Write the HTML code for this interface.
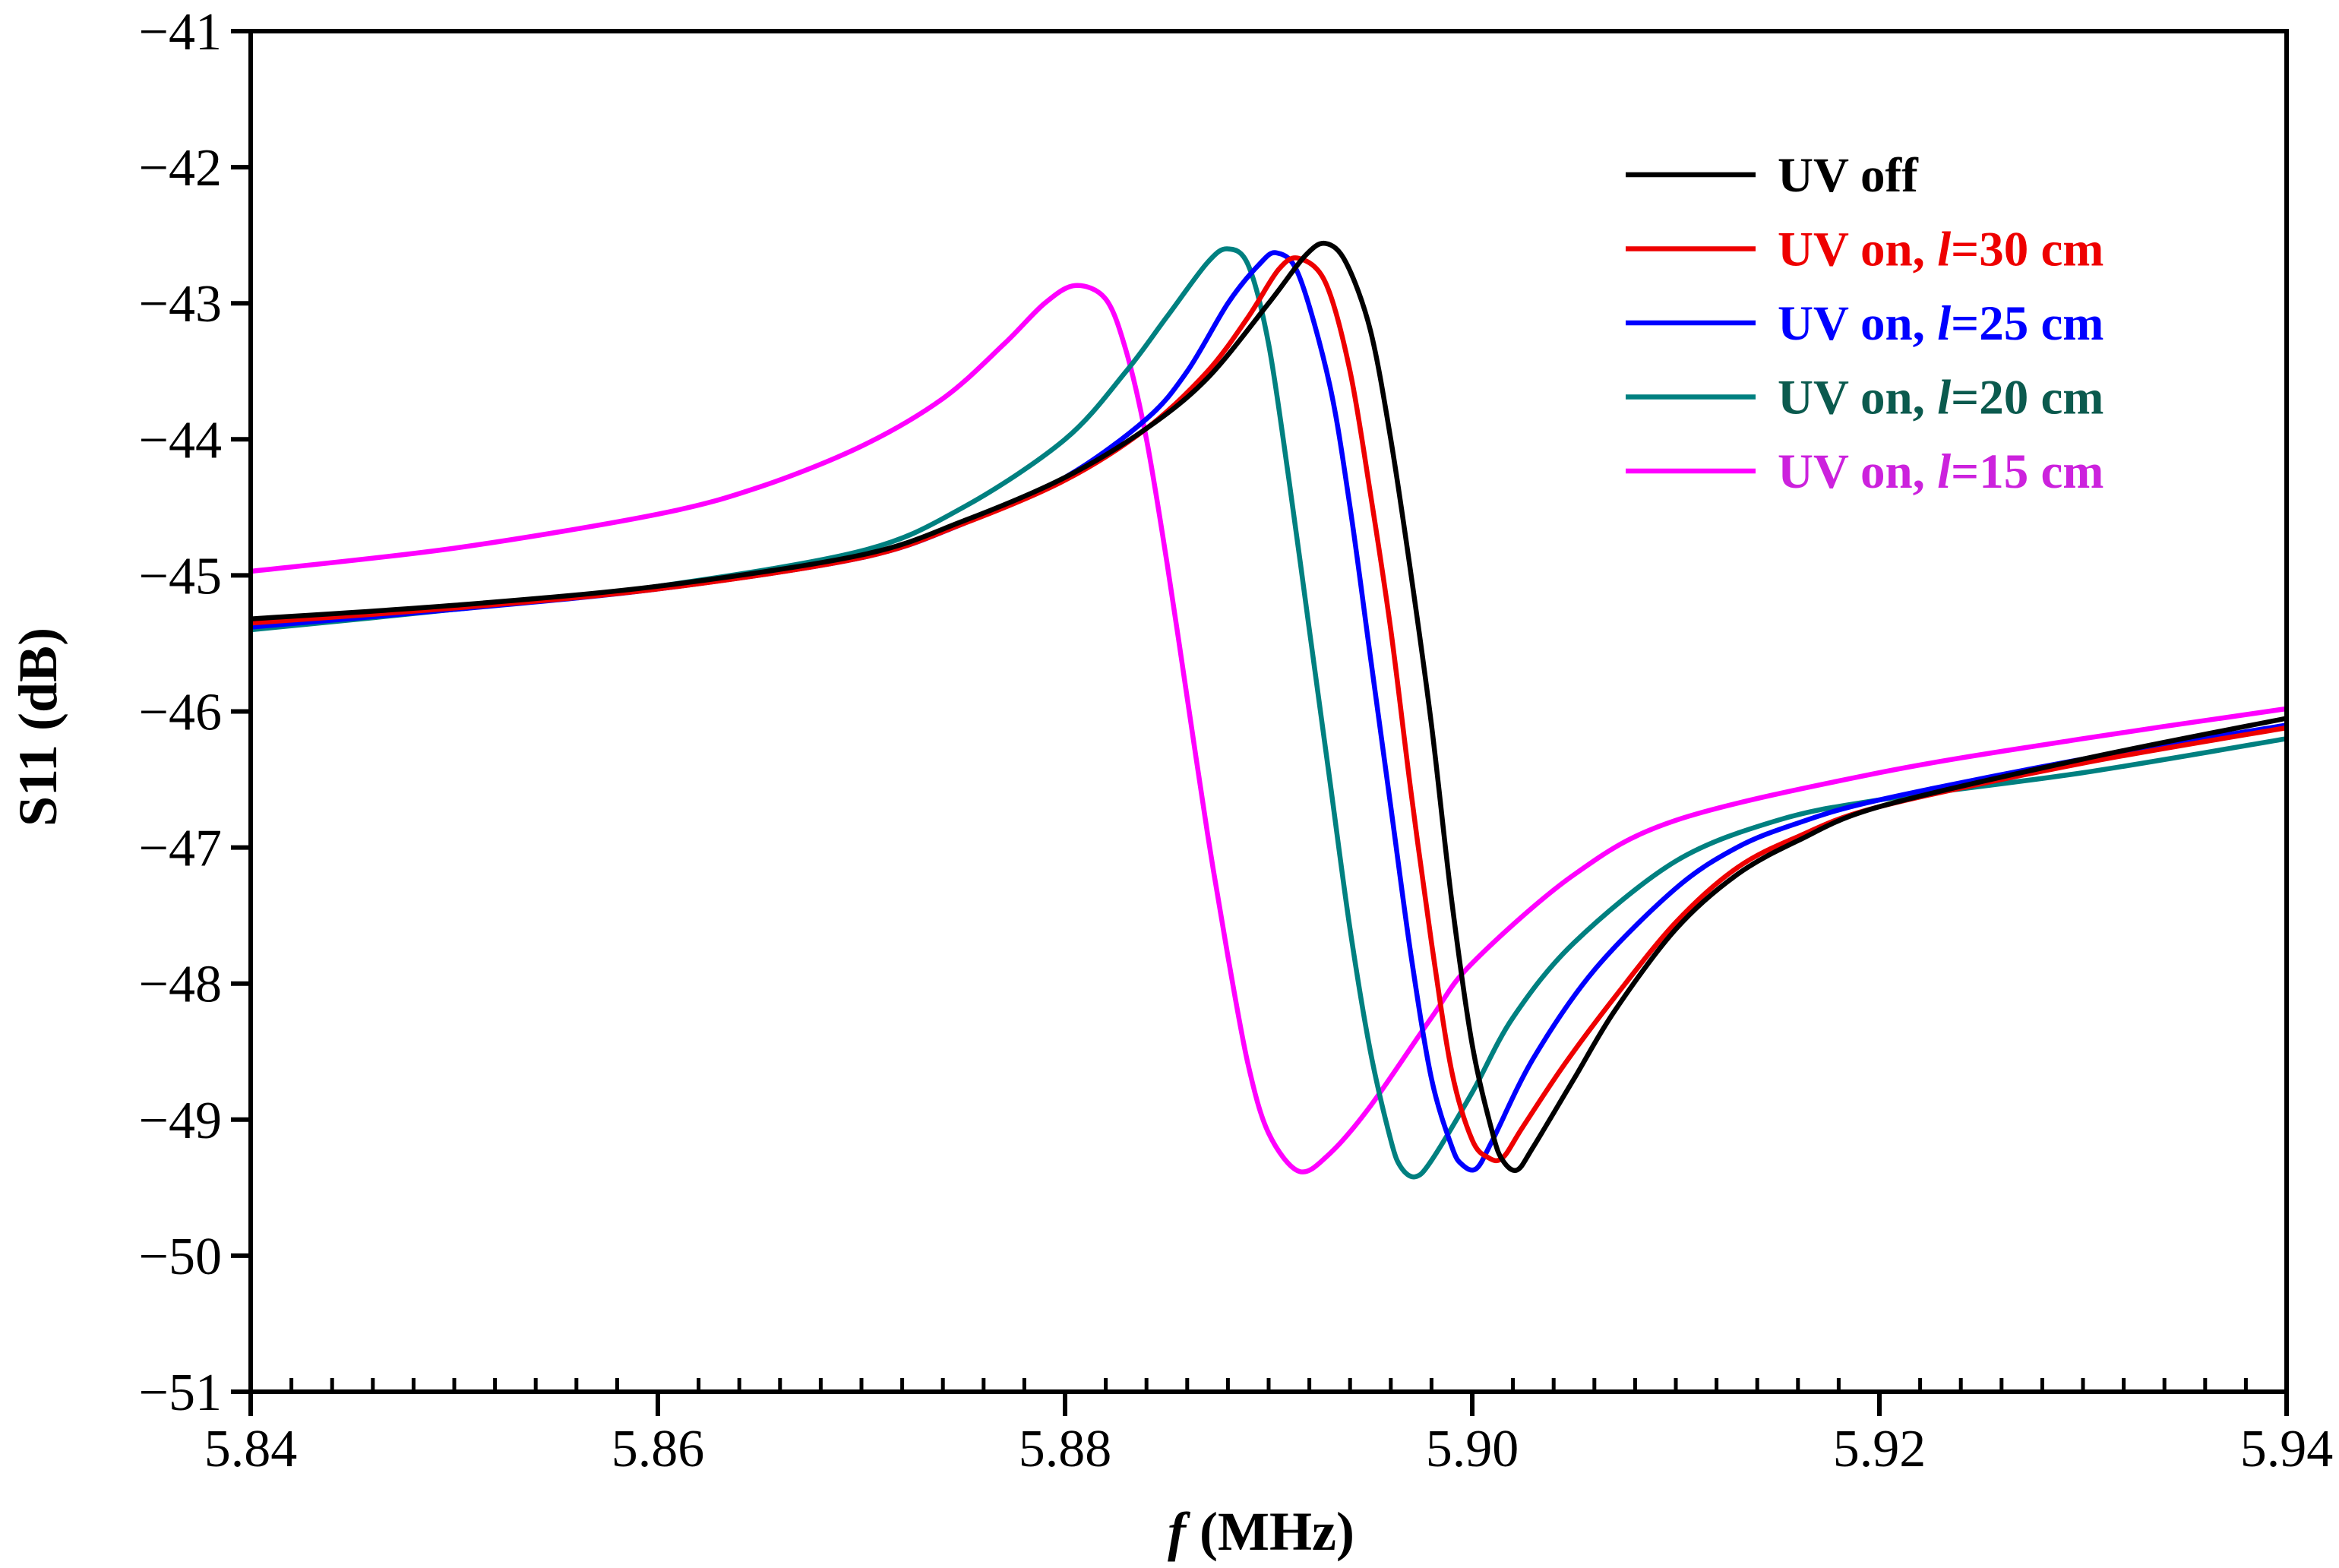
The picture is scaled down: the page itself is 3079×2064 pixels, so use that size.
<!DOCTYPE html>
<html><head><meta charset="utf-8"><style>
html,body{margin:0;padding:0;background:#fff;}
svg{display:block;font-family:"Liberation Serif",serif;}
</style></head><body>
<svg id="chart" width="3079" height="2064" viewBox="0 0 3079 2064" xmlns="http://www.w3.org/2000/svg">
<g id="series"></g>
<g id="axes"></g>
<text transform="translate(74,957) rotate(-90)" text-anchor="middle" font-size="72" font-weight="bold">S11 (dB)</text>
<text x="1660" y="2040" text-anchor="middle" font-size="72" font-weight="bold"><tspan font-style="italic">f</tspan> (MHz)</text>
<g id="legend"></g>
</svg>
<script>
const xTicks = [5.84, 5.86, 5.88, 5.90, 5.92, 5.94];
const xTickLabels = ["5.84", "5.86", "5.88", "5.90", "5.92", "5.94"];
const yTicks = [-41, -42, -43, -44, -45, -46, -47, -48, -49, -50, -51];
const yTickLabels = ["\u221241", "\u221242", "\u221243", "\u221244", "\u221245", "\u221246", "\u221247", "\u221248", "\u221249", "\u221250", "\u221251"];

const offX = [5.84,5.85,5.86,5.87,5.875,5.88,5.884,5.887,5.890,5.8918,5.8928,5.8938,5.895,5.896,5.897,5.898,5.899,5.900,5.901,5.9015,5.9022,5.903,5.905,5.907,5.910,5.913,5.916,5.92,5.93,5.94];
const offY = [-45.32,-45.22,-45.08,-44.85,-44.6,-44.28,-43.92,-43.55,-43.0,-42.65,-42.56,-42.7,-43.2,-44.0,-45.0,-46.1,-47.4,-48.45,-49.1,-49.3,-49.37,-49.2,-48.7,-48.2,-47.6,-47.2,-46.95,-46.7,-46.35,-46.05];

const on30X = [5.84,5.85,5.86,5.87,5.875,5.88,5.884,5.887,5.889,5.8905,5.8915,5.8928,5.894,5.895,5.896,5.897,5.898,5.899,5.900,5.9008,5.9015,5.9025,5.9045,5.907,5.910,5.913,5.916,5.92,5.93,5.94];
const on30Y = [-45.35,-45.24,-45.1,-44.87,-44.62,-44.3,-43.92,-43.5,-43.1,-42.75,-42.67,-42.85,-43.5,-44.4,-45.4,-46.6,-47.7,-48.65,-49.15,-49.28,-49.28,-49.05,-48.6,-48.1,-47.55,-47.15,-46.92,-46.7,-46.38,-46.12];

const on25X = [5.84,5.85,5.86,5.87,5.875,5.88,5.884,5.886,5.888,5.8895,5.8904,5.8915,5.893,5.894,5.895,5.896,5.897,5.898,5.899,5.8995,5.9002,5.901,5.903,5.906,5.91,5.913,5.916,5.92,5.93,5.94];
const on25Y = [-45.38,-45.25,-45.1,-44.87,-44.62,-44.28,-43.85,-43.5,-43.0,-42.72,-42.63,-42.8,-43.6,-44.5,-45.6,-46.7,-47.8,-48.7,-49.2,-49.33,-49.36,-49.15,-48.55,-47.9,-47.3,-47.0,-46.82,-46.65,-46.35,-46.1];

const on20X = [5.84,5.85,5.86,5.87,5.875,5.88,5.883,5.885,5.887,5.888,5.889,5.890,5.891,5.892,5.893,5.894,5.895,5.896,5.8965,5.8972,5.898,5.900,5.902,5.905,5.91,5.915,5.92,5.93,5.94];
const on20Y = [-45.4,-45.25,-45.08,-44.82,-44.5,-44.0,-43.5,-43.1,-42.7,-42.6,-42.72,-43.3,-44.3,-45.4,-46.5,-47.6,-48.5,-49.15,-49.35,-49.42,-49.3,-48.8,-48.25,-47.7,-47.1,-46.8,-46.65,-46.45,-46.2];

const on15X = [5.84,5.85,5.86,5.865,5.87,5.874,5.877,5.879,5.8805,5.882,5.883,5.884,5.885,5.886,5.887,5.888,5.889,5.890,5.8915,5.893,5.895,5.898,5.90,5.905,5.91,5.92,5.93,5.94];
const on15Y = [-44.97,-44.8,-44.55,-44.35,-44.05,-43.7,-43.3,-43.0,-42.87,-42.97,-43.35,-44.0,-44.9,-45.9,-46.9,-47.8,-48.6,-49.1,-49.38,-49.25,-48.9,-48.25,-47.85,-47.2,-46.8,-46.45,-46.2,-45.98];

const NS = "http://www.w3.org/2000/svg";
const X0 = 330, X1 = 3010, Y0 = 41, Y1 = 1832;
const xMin = 5.84, xMax = 5.94, yMin = -51, yMax = -41;
function sx(v){ return X0 + (v - xMin) / (xMax - xMin) * (X1 - X0); }
function sy(v){ return Y1 - (v - yMin) / (yMax - yMin) * (Y1 - Y0); }
function mk(tag, attrs, parent){ const e = document.createElementNS(NS, tag); for (const k in attrs) e.setAttribute(k, attrs[k]); parent.appendChild(e); return e; }

function smoothPath(xs, ys){
  const p = xs.map((x,i)=>[sx(x), sy(ys[i])]);
  let d = "M" + p[0][0].toFixed(1) + "," + p[0][1].toFixed(1);
  for (let i = 0; i < p.length - 1; i++){
    const a = p[Math.max(i-1,0)], b = p[i], c = p[i+1], e = p[Math.min(i+2,p.length-1)];
    const t = 0.16;
    const c1 = [b[0] + (c[0]-a[0])*t, b[1] + (c[1]-a[1])*t];
    const c2 = [c[0] - (e[0]-b[0])*t, c[1] - (e[1]-b[1])*t];
    d += "C" + c1[0].toFixed(1) + "," + c1[1].toFixed(1) + " " + c2[0].toFixed(1) + "," + c2[1].toFixed(1) + " " + c[0].toFixed(1) + "," + c[1].toFixed(1);
  }
  return d;
}

const seriesG = document.getElementById("series");
const seriesDefs = [
  [on15X, on15Y, "#ff00ff", "series-uv-on-15cm"],
  [on20X, on20Y, "#008080", "series-uv-on-20cm"],
  [on25X, on25Y, "#0000ff", "series-uv-on-25cm"],
  [on30X, on30Y, "#ee0000", "series-uv-on-30cm"],
  [offX, offY, "#000000", "series-uv-off"]
];
seriesDefs.forEach(s => {
  const path = mk("path", {d: smoothPath(s[0], s[1]), fill: "none", stroke: s[2], "stroke-width": 6.5, "stroke-linejoin": "round"}, seriesG);
  
  
});

const axesG = document.getElementById("axes");
const frame = mk("rect", {x: X0, y: Y0, width: X1 - X0, height: Y1 - Y0, fill: "none", stroke: "#000", "stroke-width": 6}, axesG);



yTicks.forEach((v, i) => {
  const t = mk("line", {x1: X0 - 26, x2: X0, y1: sy(v), y2: sy(v), stroke: "#000", "stroke-width": 6}, axesG);
  
  
  const lb = mk("text", {x: X0 - 38, y: sy(v) + 24, "text-anchor": "end", "font-size": 70}, axesG);
  lb.textContent = yTickLabels[i];
  
  
});
xTicks.forEach((v, i) => {
  const t = mk("line", {x1: sx(v), x2: sx(v), y1: Y1, y2: Y1 + 32, stroke: "#000", "stroke-width": 6}, axesG);
  
  
  const lb = mk("text", {x: sx(v), y: 1930, "text-anchor": "middle", "font-size": 70}, axesG);
  lb.textContent = xTickLabels[i];
  
  
});
for (let k = 1; k < 50; k++){
  if (k % 10 === 0) continue;
  const v = xMin + k * 0.002;
  const t = mk("line", {x1: sx(v), x2: sx(v), y1: Y1, y2: Y1 - 18, stroke: "#000", "stroke-width": 5}, axesG);
  
  
}

const legendG = document.getElementById("legend");
const legendItems = [
  ["#000000", "#000000", "UV off", null, "legend-entry-uv-off"],
  ["#ee0000", "#ee0000", "UV on, ", "=30 cm", "legend-entry-uv-on-30cm"],
  ["#0000ff", "#0000ff", "UV on, ", "=25 cm", "legend-entry-uv-on-25cm"],
  ["#008080", "#0b5a4e", "UV on, ", "=20 cm", "legend-entry-uv-on-20cm"],
  ["#ff00ff", "#cc22dd", "UV on, ", "=15 cm", "legend-entry-uv-on-15cm"]
];
legendItems.forEach((it, i) => {
  const cy = 230 + i * 97.5;
  const g = mk("g", {}, legendG);
  
  
  mk("line", {x1: 2140, x2: 2311, y1: cy, y2: cy, stroke: it[0], "stroke-width": 6.5}, g);
  const tx = mk("text", {x: 2340, y: cy + 22, "font-size": 65, "font-weight": "bold", fill: it[1]}, g);
  if (it[3] === null) { tx.textContent = it[2]; }
  else {
    tx.appendChild(document.createTextNode(it[2]));
    const ts = mk("tspan", {"font-style": "italic"}, tx);
    ts.textContent = "l";
    tx.appendChild(document.createTextNode(it[3]));
  }
});
</script>
</body></html>
